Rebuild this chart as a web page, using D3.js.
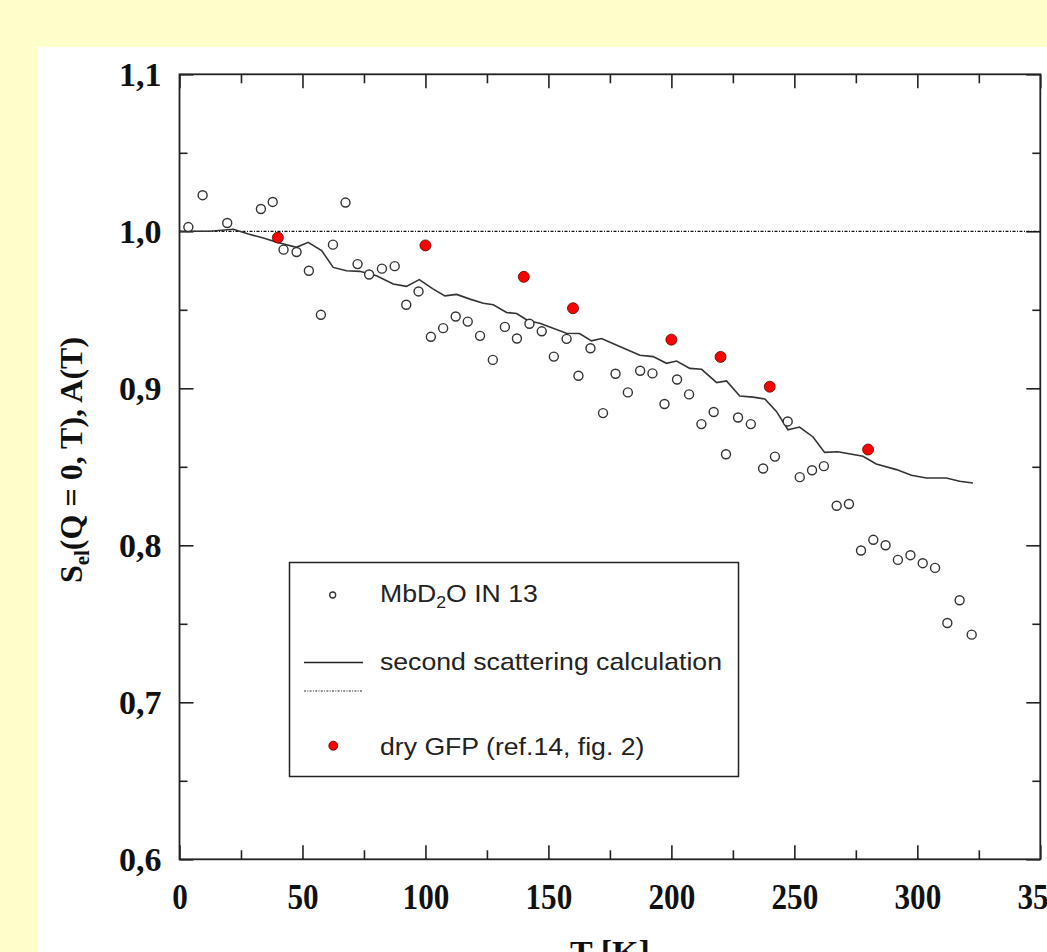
<!DOCTYPE html>
<html><head><meta charset="utf-8">
<script src="https://cdn.jsdelivr.net/npm/d3@7"></script>
<style>
html,body{margin:0;padding:0;background:#ffffcc;overflow:hidden;}
</style></head>
<body>
<script>
// ---- data ----
const openT = [3.6,9.4,19.4,33.1,37.9,42.3,47.6,52.6,57.5,62.4,67.5,72.4,77.1,82.3,87.5,92.2,97.2,102.2,107.2,112.3,117.2,122.2,127.4,132.3,137.2,142.3,147.3,152.2,157.4,162.2,167.1,172.2,177.3,182.3,187.3,192.3,197.2,202.3,207.2,212.2,217.2,222.2,227.1,232.3,237.3,242.1,247.3,252.2,257.2,262.0,267.2,272.2,277.1,282.1,287.1,292.1,297.2,302.2,307.2,312.2,317.2,322.1];
const openS = [1.0027,1.023,1.0053,1.0142,1.0187,0.9883,0.9868,0.9749,0.9468,0.9915,1.0183,0.9791,0.9725,0.9762,0.9778,0.9532,0.9617,0.9328,0.9383,0.9457,0.9425,0.9334,0.9181,0.9391,0.9317,0.9411,0.9363,0.9202,0.9315,0.9080,0.9255,0.8842,0.9093,0.8974,0.9112,0.9095,0.8900,0.9056,0.8961,0.8772,0.8849,0.8580,0.8814,0.8772,0.8489,0.8565,0.8789,0.8434,0.8478,0.8504,0.8252,0.8263,0.7967,0.8035,0.8000,0.7907,0.7937,0.7886,0.7856,0.7505,0.7650,0.7431];
const calcT = [0,12.4,21.9,28.0,34.1,39.6,47.6,52.3,57.8,62.5,67.9,73.3,80.1,86.9,92.3,97.5,103.2,107.9,112.7,118.1,123.5,127.6,133.0,137.1,141.7,146.5,157.3,162.7,167.5,171.6,179.0,187.2,192.6,198.0,202.1,207.5,212.3,218.4,222.4,227.8,233.2,238.0,242.7,247.4,252.1,257.6,262.3,267.7,277.9,283.3,291.5,297.6,303.7,311.8,317.2,322.6];
const calcS = [1.000,1.000,1.0013,0.9983,0.9957,0.9930,0.9898,0.9930,0.9877,0.9770,0.9749,0.9745,0.9717,0.9664,0.9649,0.9692,0.9632,0.9589,0.9598,0.9568,0.9542,0.9532,0.9483,0.9476,0.9430,0.9414,0.9351,0.9349,0.9302,0.9317,0.9266,0.9210,0.9202,0.9159,0.9174,0.9127,0.9121,0.9036,0.9047,0.8951,0.8944,0.8932,0.8853,0.8736,0.8753,0.8690,0.8592,0.8596,0.8567,0.8518,0.8482,0.8446,0.8429,0.8429,0.8408,0.8397];
const gfpT = [40,100,140,160,200,220,240,280];
const gfpS = [0.996,0.991,0.971,0.951,0.931,0.920,0.901,0.861];
const refLevel = 1.0;
const xMajor = [0,50,100,150,200,250,300,350];
const xMinor = [25,75,125,175,225,275,325];
const yMajor = [0.6,0.7,0.8,0.9,1.0,1.1];
const yMinor = [0.65,0.75,0.85,0.95,1.05];
const legendLabels = ["MbD", "second scattering calculation", "dry GFP (ref.14, fig. 2)"];

// ---- layout ----
const W = 1047, H = 952;
const svg = d3.select("body").append("svg").attr("width", W).attr("height", H);
svg.append("rect").attr("width", W).attr("height", H).attr("fill", "#ffffcc");
svg.append("rect").attr("x", 37).attr("y", 47).attr("width", W - 37).attr("height", H - 47).attr("fill", "#ffffff");

const L = 179.5, R = 1040.3, T = 74.3, B = 859.3;
const x = d3.scaleLinear().domain([0, 350]).range([L, R]);
const y = d3.scaleLinear().domain([0.6, 1.1]).range([B, T]);

const axisColor = "#222";
function styleAxis(g) {
  g.select(".domain").remove();
  g.selectAll(".tick line").attr("stroke", axisColor).attr("stroke-width", 1.6);
}
// bottom major with labels
const gxB = svg.append("g").attr("transform", `translate(0,${B})`)
  .call(d3.axisBottom(x).tickValues(xMajor).tickSize(-14).tickPadding(26).tickFormat(d3.format("d")));
styleAxis(gxB);
gxB.selectAll(".tick text")
  .attr("font-family", "'Liberation Serif', 'Times New Roman', serif")
  .attr("font-weight", "bold").attr("font-size", 36).attr("fill", "#111")
  .attr("dy", "0.71em")
  .attr("y", 24)
  .attr("textLength", d => String(d).length * 15.6)
  .attr("lengthAdjust", "spacingAndGlyphs");
svg.append("g").attr("transform", `translate(0,${B})`)
  .call(d3.axisBottom(x).tickValues(xMinor).tickSize(-9).tickFormat(""))
  .call(styleAxis);
// top
svg.append("g").attr("transform", `translate(0,${T})`)
  .call(d3.axisTop(x).tickValues(xMajor).tickSize(-14).tickFormat("")).call(styleAxis);
svg.append("g").attr("transform", `translate(0,${T})`)
  .call(d3.axisTop(x).tickValues(xMinor).tickSize(-9).tickFormat("")).call(styleAxis);
// left
const gyL = svg.append("g").attr("transform", `translate(${L},0)`)
  .call(d3.axisLeft(y).tickValues(yMajor).tickSize(-14).tickPadding(18)
    .tickFormat(d => d3.format(".1f")(d).replace(".", ",")));
styleAxis(gyL);
gyL.selectAll(".tick text")
  .attr("font-family", "'Liberation Serif', 'Times New Roman', serif")
  .attr("font-weight", "bold").attr("font-size", 34).attr("fill", "#111")
  .attr("x", -18).attr("dy", "0.33em");
svg.append("g").attr("transform", `translate(${L},0)`)
  .call(d3.axisLeft(y).tickValues(yMinor).tickSize(-8).tickFormat("")).call(styleAxis);
// right
svg.append("g").attr("transform", `translate(${R},0)`)
  .call(d3.axisRight(y).tickValues(yMajor).tickSize(-14).tickFormat("")).call(styleAxis);
svg.append("g").attr("transform", `translate(${R},0)`)
  .call(d3.axisRight(y).tickValues(yMinor).tickSize(-8).tickFormat("")).call(styleAxis);

// frame
svg.append("rect").attr("x", L).attr("y", T).attr("width", R - L).attr("height", B - T)
  .attr("fill", "none").attr("stroke", axisColor).attr("stroke-width", 1.8);

// reference dotted line
svg.append("line").attr("x1", x(0)).attr("x2", x(350)).attr("y1", y(refLevel)).attr("y2", y(refLevel))
  .attr("stroke", "#111").attr("stroke-width", 1.3).attr("stroke-dasharray", "3,1.5,1,1.5");

// calculation line
const calc = calcT.map((t, i) => [t, calcS[i]]);
svg.append("path").datum(calc)
  .attr("d", d3.line().x(d => x(d[0])).y(d => y(d[1])))
  .attr("fill", "none").attr("stroke", "#333").attr("stroke-width", 1.6);

// open circles
const open = openT.map((t, i) => [t, openS[i]]);
svg.append("g").selectAll("circle").data(open).join("circle")
  .attr("cx", d => x(d[0])).attr("cy", d => y(d[1])).attr("r", 4.5)
  .attr("fill", "#fff").attr("stroke", "#333").attr("stroke-width", 1.4);

// red dots
const gfp = gfpT.map((t, i) => [t, gfpS[i]]);
svg.append("g").selectAll("circle").data(gfp).join("circle")
  .attr("cx", d => x(d[0])).attr("cy", d => y(d[1])).attr("r", 5.5)
  .attr("fill", "#ff0000").attr("stroke", "#550000").attr("stroke-width", 0.8);

// legend
const lg = svg.append("g");
lg.append("rect").attr("x", 289.5).attr("y", 562.5).attr("width", 449).attr("height", 214)
  .attr("fill", "#fff").attr("stroke", "#222").attr("stroke-width", 1.5);
const lf = "'Liberation Sans', Arial, sans-serif";
const lsx = 1.11;
lg.append("circle").attr("cx", 332.7).attr("cy", 595).attr("r", 3).attr("fill", "#fff")
  .attr("stroke", "#333").attr("stroke-width", 1.3);
const t1 = lg.append("text").attr("transform", `translate(380,602) scale(${lsx},1)`).attr("font-family", lf)
  .attr("font-size", 24).attr("fill", "#222");
t1.append("tspan").text(legendLabels[0]);
t1.append("tspan").attr("font-size", 16).attr("dy", 6).text("2");
t1.append("tspan").attr("dy", -6).text("O IN 13");
lg.append("line").attr("x1", 304).attr("x2", 363).attr("y1", 662.5).attr("y2", 662.5)
  .attr("stroke", "#222").attr("stroke-width", 1.5);
lg.append("line").attr("x1", 304).attr("x2", 363).attr("y1", 691).attr("y2", 691)
  .attr("stroke", "#222").attr("stroke-width", 1).attr("stroke-dasharray", "2,1.3,1,1.3");
lg.append("text").attr("transform", `translate(380,670) scale(${lsx},1)`).attr("font-family", lf)
  .attr("font-size", 24).attr("fill", "#222").text(legendLabels[1]);
lg.append("circle").attr("cx", 333.3).attr("cy", 745.7).attr("r", 4.5)
  .attr("fill", "#ff0000").attr("stroke", "#550000").attr("stroke-width", 0.8);
lg.append("text").attr("transform", `translate(380,755) scale(${lsx},1)`).attr("font-family", lf)
  .attr("font-size", 24).attr("fill", "#222").text(legendLabels[2]);

// axis titles
const sf = "'Liberation Serif', 'Times New Roman', serif";
const yt = svg.append("text").attr("transform", "translate(82,460) rotate(-90)")
  .attr("text-anchor", "middle").attr("font-family", sf).attr("font-weight", "bold")
  .attr("font-size", 32).attr("fill", "#111");
yt.append("tspan").text("S");
yt.append("tspan").attr("font-size", 21).attr("dy", 7).text("el");
yt.append("tspan").attr("dy", -7).text("(Q = 0, T), A(T)");

svg.append("text").attr("x", (L + R) / 2).attr("y", 964).attr("text-anchor", "middle")
  .attr("font-family", sf).attr("font-weight", "bold").attr("font-size", 34).attr("fill", "#111")
  .text("T [K]");
</script>
</body></html>
